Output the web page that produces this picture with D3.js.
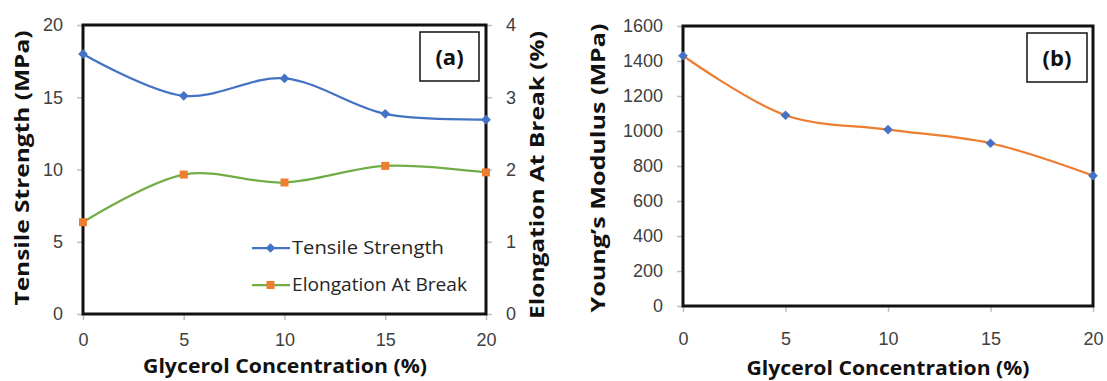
<!DOCTYPE html>
<html>
<head>
<meta charset="utf-8">
<script src="https://cdn.jsdelivr.net/npm/d3@7"></script>
<style>
    body { margin: 0; background: #fff; }
    svg { display: block; font-family: "Open Sans", "DejaVu Sans", sans-serif; }
</style>
</head>
<body>
<svg id="chart" width="1107" height="381"></svg>
<script>
const glycerol = [0, 5, 10, 15, 20];
const tensileStrength = [18.0, 15.1, 16.3, 13.85, 13.45];
const elongationAtBreak = [1.27, 1.93, 1.82, 2.05, 1.96];
const youngsModulus = [1430, 1090, 1008, 930, 745];

const xTicks = [0, 5, 10, 15, 20];
const tensileTicks = [0, 5, 10, 15, 20];
const elongationTicks = [0, 1, 2, 3, 4];
const modulusTicks = [0, 200, 400, 600, 800, 1000, 1200, 1400, 1600];

const svg = d3.select('#chart');
const labelColor = '#404040';
const tickColor = '#bfbfbf';
const blue = '#4472C4';
const green = '#70AD47';
const orange = '#ED7D31';
const fmt = d3.format('d');

const curve = d3.curveCatmullRom.alpha(0.5);

function styleAxis(g) {
    g.select('.domain').remove();
    g.selectAll('.tick line').attr('stroke', tickColor).attr('stroke-width', 1.5);
    g.selectAll('.tick text')
        .attr('fill', labelColor)
        .style('font-size', '18px');
}

function frame(x0, x1, y0, y1) {
    svg.append('rect')
        .attr('x', x0).attr('y', y1)
        .attr('width', x1 - x0).attr('height', y0 - y1)
        .attr('fill', 'none')
        .attr('stroke', '#111')
        .attr('stroke-width', 3);
}

function labelBox(x, y, w, h, txt) {
    svg.append('rect')
        .attr('x', x).attr('y', y).attr('width', w).attr('height', h)
        .attr('fill', '#fff').attr('stroke', '#111').attr('stroke-width', 1.5);
    svg.append('text')
        .attr('x', x + w / 2).attr('y', y + h / 2 + 8)
        .attr('text-anchor', 'middle')
        .style('font-size', '22px').style('font-weight', 'bold')
        .attr('fill', '#111')
        .text(txt);
}

function axisTitle(x, y, txt, rotate, len) {
    svg.append('text')
        .attr('transform', `translate(${x},${y})` + (rotate ? ' rotate(-90)' : ''))
        .attr('text-anchor', 'middle')
        .attr('textLength', len)
        .attr('lengthAdjust', 'spacingAndGlyphs')
        .style('font-size', '20px').style('font-weight', 'bold')
        .attr('fill', '#111')
        .text(txt);
}

// ---------- panel (a) ----------
const xa = d3.scaleLinear().domain([0, 20]).range([83, 486]);
const yTs = d3.scaleLinear().domain([0, 20]).range([314, 25]);
const yEl = d3.scaleLinear().domain([0, 4]).range([314, 25]);

svg.append('g')
    .attr('transform', `translate(0,${yTs(0)})`)
    .call(d3.axisBottom(xa).tickValues(xTicks).tickFormat(fmt).tickSize(6).tickPadding(13))
    .call(styleAxis);

svg.append('g')
    .attr('transform', `translate(${xa(0)},0)`)
    .call(d3.axisLeft(yTs).tickValues(tensileTicks).tickFormat(fmt).tickSize(6).tickPadding(14))
    .call(styleAxis);

svg.append('g')
    .attr('transform', `translate(${xa(20)},0)`)
    .call(d3.axisRight(yEl).tickValues(elongationTicks).tickFormat(fmt).tickSize(6).tickPadding(14))
    .call(styleAxis);

frame(xa(0), xa(20), yTs(0), yTs(20));

const tsPts = glycerol.map((g, i) => [xa(g), yTs(tensileStrength[i])]);
const elPts = glycerol.map((g, i) => [xa(g), yEl(elongationAtBreak[i])]);

svg.append('path')
    .attr('d', d3.line().curve(curve)(tsPts))
    .attr('fill', 'none').attr('stroke', blue).attr('stroke-width', 2.25);
svg.append('path')
    .attr('d', d3.line().curve(curve)(elPts))
    .attr('fill', 'none').attr('stroke', green).attr('stroke-width', 2.25);

const diamond = d3.symbol().type(d3.symbolDiamond2).size(60);
const square = d3.symbol().type(d3.symbolSquare).size(64);

svg.selectAll('.ts-pt').data(tsPts).enter().append('path')
    .attr('class', 'ts-pt')
    .attr('transform', d => `translate(${d[0]},${d[1]})`)
    .attr('d', diamond).attr('fill', blue);

svg.selectAll('.el-pt').data(elPts).enter().append('path')
    .attr('class', 'el-pt')
    .attr('transform', d => `translate(${d[0]},${d[1]})`)
    .attr('d', square).attr('fill', orange);

// legend
const legendItems = [
    { name: 'Tensile Strength', line: blue, mark: diamond, fill: blue, y: 248 },
    { name: 'Elongation At Break', line: green, mark: square, fill: orange, y: 285 }
];
legendItems.forEach(d => {
    svg.append('line')
        .attr('x1', 252).attr('x2', 290).attr('y1', d.y).attr('y2', d.y)
        .attr('stroke', d.line).attr('stroke-width', 2.25);
    svg.append('path')
        .attr('transform', `translate(270.5,${d.y})`)
        .attr('d', d.mark).attr('fill', d.fill);
    svg.append('text')
        .attr('x', 292).attr('y', d.y + 6)
        .attr('textLength', d.name === 'Tensile Strength' ? 152 : 175)
        .attr('lengthAdjust', 'spacingAndGlyphs')
        .style('font-size', '18px')
        .attr('fill', '#262626')
        .text(d.name);
});

labelBox(420, 32, 59, 49, '(a)');

axisTitle(29, 168, 'Tensile Strength (MPa)', true, 275);
axisTitle(544, 175, 'Elongation At Break (%)', true, 288);
axisTitle(285, 373, 'Glycerol Concentration (%)', false, 284);

// ---------- panel (b) ----------
const xb = d3.scaleLinear().domain([0, 20]).range([683, 1093]);
const yYm = d3.scaleLinear().domain([0, 1600]).range([306, 26]);

svg.append('g')
    .attr('transform', `translate(0,${yYm(0)})`)
    .call(d3.axisBottom(xb).tickValues(xTicks).tickFormat(fmt).tickSize(6).tickPadding(20))
    .call(styleAxis);

svg.append('g')
    .attr('transform', `translate(${xb(0)},0)`)
    .call(d3.axisLeft(yYm).tickValues(modulusTicks).tickFormat(fmt).tickSize(6).tickPadding(14))
    .call(styleAxis);

frame(xb(0), xb(20), yYm(0), yYm(1600));

const ymPts = glycerol.map((g, i) => [xb(g), yYm(youngsModulus[i])]);

svg.append('path')
    .attr('d', d3.line().curve(curve)(ymPts))
    .attr('fill', 'none').attr('stroke', orange).attr('stroke-width', 2.25);

svg.selectAll('.ym-pt').data(ymPts).enter().append('path')
    .attr('class', 'ym-pt')
    .attr('transform', d => `translate(${d[0]},${d[1]})`)
    .attr('d', diamond).attr('fill', blue);

labelBox(1027, 33, 60, 49, '(b)');

axisTitle(605, 168, 'Young\u2019s Modulus (MPa)', true, 289);
axisTitle(888, 375, 'Glycerol Concentration (%)', false, 283);
</script>
</body>
</html>
